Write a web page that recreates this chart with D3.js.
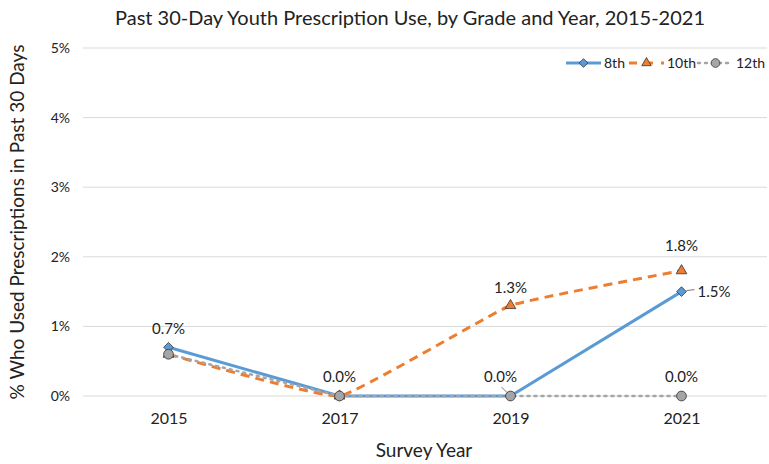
<!DOCTYPE html>
<html>
<head>
<meta charset="utf-8">
<script src="https://cdn.jsdelivr.net/npm/d3@7"></script>
<style>
  body { margin: 0; background: #fff; }
  text { font-family: Lato, "Open Sans", sans-serif; fill: #222; }
</style>
</head>
<body>
<div id="chart"></div>
<script>
const years = ['2015', '2017', '2019', '2021']
const grade8 = [0.7, 0.0, 0.0, 1.5]
const grade10 = [0.6, 0.0, 1.3, 1.8]
const grade12 = [0.6, 0.0, 0.0, 0.0]
const yTicks = [0, 1, 2, 3, 4, 5]

// which points get a label and where it sits relative to the point
const labels = [
  { series: '8th', i: 0, dx: 0, dy: -19 },
  { series: '12th', i: 1, dx: 0, dy: -19 },
  { series: '12th', i: 2, dx: -10, dy: -19, leader: true },
  { series: '12th', i: 3, dx: 0, dy: -19 },
  { series: '10th', i: 2, dx: 0, dy: -18 },
  { series: '10th', i: 3, dx: 0, dy: -25 },
  { series: '8th', i: 3, dx: 16, dy: 0, anchor: 'start', leader: true }
]

const series = [
  { name: '8th', values: grade8, color: '#5B9BD5', dash: null, marker: 'diamond', curve: d3.curveLinear },
  { name: '10th', values: grade10, color: '#ED7D31', dash: '9,6', marker: 'triangle', curve: d3.curveCardinal.tension(0.7) },
  { name: '12th', values: grade12, color: '#A5A5A5', dash: '2,5', marker: 'circle', curve: d3.curveLinear }
]

const width = 769, height = 464
const margin = { top: 48, right: 2, bottom: 68, left: 83 }

const svg = d3.select('#chart').append('svg')
  .attr('width', width).attr('height', height)

const x = d3.scalePoint().domain(years)
  .range([margin.left, width - margin.right]).padding(0.5)
const y = d3.scaleLinear().domain([0, 5])
  .range([height - margin.bottom, margin.top])

// gridlines
svg.append('g').selectAll('line').data(yTicks).join('line')
  .attr('x1', margin.left).attr('x2', width - margin.right)
  .attr('y1', d => y(d)).attr('y2', d => y(d))
  .attr('stroke', '#d9d9d9').attr('stroke-width', 1)

const yAxis = svg.append('g')
  .attr('transform', `translate(${margin.left},0)`)
  .call(d3.axisLeft(y).tickValues(yTicks).tickFormat(d => d + '%').tickSize(0).tickPadding(13))
yAxis.select('.domain').remove()
yAxis.selectAll('text').style('font-size', '14px').attr('fill', '#333')

const xAxis = svg.append('g')
  .attr('transform', `translate(0,${y(0)})`)
  .call(d3.axisBottom(x).tickSize(0).tickPadding(17))
xAxis.select('.domain').remove()
xAxis.selectAll('text').style('font-size', '16px').attr('fill', '#333')

// titles
svg.append('text').attr('x', 410).attr('y', 25)
  .attr('text-anchor', 'middle').style('font-size', '20px')
  .text('Past 30-Day Youth Prescription Use, by Grade and Year, 2015-2021')
svg.append('text').attr('x', 424).attr('y', 457)
  .attr('text-anchor', 'middle').style('font-size', '19px')
  .text('Survey Year')
svg.append('text')
  .attr('transform', `translate(24,${(margin.top + y(0)) / 2}) rotate(-90)`)
  .attr('text-anchor', 'middle').style('font-size', '19px')
  .text('% Who Used Prescriptions in Past 30 Days')

const symbolOf = m => m === 'diamond' ? d3.symbolDiamond2 : m === 'triangle' ? d3.symbolTriangle2 : d3.symbolCircle
const sizeOf = m => m === 'circle' ? 75 : m === 'triangle' ? 80 : 60

const plot = svg.append('g')
series.forEach(s => {
  const line = d3.line().x((d, i) => x(years[i])).y(d => y(d)).curve(s.curve)
  plot.append('path').datum(s.values)
    .attr('d', line).attr('fill', 'none')
    .attr('stroke', s.color).attr('stroke-width', s.name === '12th' ? 2.5 : 3)
    .attr('stroke-dasharray', s.dash)
    .attr('stroke-linecap', s.name === '12th' ? 'round' : 'butt')
})
// draw markers: 10th first, then 8th, then 12th on top
;[series[1], series[0], series[2]].forEach(s => {
  plot.append('g').selectAll('path').data(s.values).join('path')
    .attr('transform', (d, i) => `translate(${x(years[i])},${y(d)})`)
    .attr('d', d3.symbol().type(symbolOf(s.marker)).size(sizeOf(s.marker)))
    .attr('fill', s.color).attr('stroke', '#333').attr('stroke-width', 0.8)
})

// data labels
const lookup = Object.fromEntries(series.map(s => [s.name, s.values]))
labels.forEach(l => {
  const v = lookup[l.series][l.i]
  const px = x(years[l.i]), py = y(v)
  if (l.leader) {
    if (l.anchor === 'start') {
      svg.append('line').attr('x1', px + 5).attr('y1', py - 1).attr('x2', px + 13).attr('y2', py - 2)
        .attr('stroke', '#555').attr('stroke-width', 0.8)
    } else {
      svg.append('line').attr('x1', px - 9).attr('y1', py - 9).attr('x2', px - 3).attr('y2', py - 3)
        .attr('stroke', '#555').attr('stroke-width', 0.8)
    }
  }
  svg.append('text')
    .attr('x', px + l.dx).attr('y', py + l.dy)
    .attr('dy', '0.35em')
    .attr('text-anchor', l.anchor || 'middle')
    .style('font-size', '15px')
    .text(v.toFixed(1) + '%')
})

// legend
const legendX = [566, 629, 698]
const legend = svg.append('g')
series.forEach((s, k) => {
  const g = legend.append('g').attr('transform', `translate(${legendX[k]},63)`)
  g.append('line').attr('x1', 0).attr('x2', 35)
    .attr('stroke', s.color).attr('stroke-width', s.name === '12th' ? 2.5 : 3)
    .attr('stroke-dasharray', s.name === '10th' ? '8,8' : s.dash)
    .attr('stroke-linecap', s.name === '12th' ? 'round' : 'butt')
  g.append('path').attr('transform', 'translate(17.5,0)')
    .attr('d', d3.symbol().type(symbolOf(s.marker)).size(sizeOf(s.marker) * 0.8))
    .attr('fill', s.color).attr('stroke', '#333').attr('stroke-width', 0.8)
  g.append('text').attr('x', 38).attr('dy', '0.35em')
    .style('font-size', '14px').text(s.name)
})
</script>
</body>
</html>
